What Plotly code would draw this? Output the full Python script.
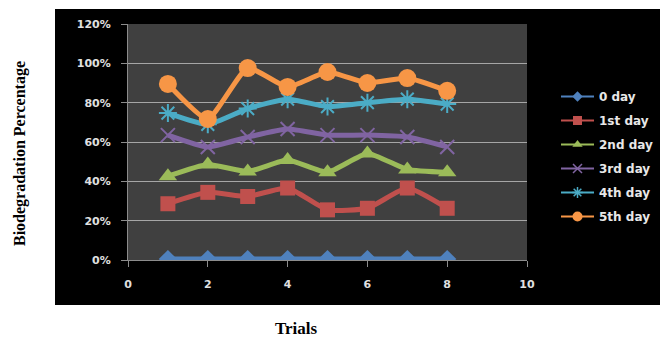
import plotly.graph_objects as go

# Trials and biodegradation fractions per incubation day
trials = [1, 2, 3, 4, 5, 6, 7, 8]
day0 = [0.005, 0.005, 0.005, 0.005, 0.005, 0.005, 0.005, 0.005]
day1 = [0.286, 0.344, 0.323, 0.366, 0.255, 0.263, 0.366, 0.263]
day2 = [0.426, 0.486, 0.450, 0.508, 0.446, 0.542, 0.460, 0.446]
day3 = [0.635, 0.575, 0.625, 0.666, 0.635, 0.635, 0.625, 0.575]
day4 = [0.747, 0.690, 0.770, 0.818, 0.780, 0.800, 0.818, 0.793]
day5 = [0.895, 0.717, 0.976, 0.880, 0.956, 0.900, 0.925, 0.860]

series_names = ["0 day", "1st day", "2nd day", "3rd day", "4th day", "5th day"]
series_values = [day0, day1, day2, day3, day4, day5]
colors = ["#4F81BD", "#C0504D", "#9BBB59", "#8064A2", "#4BACC6", "#F79646"]
symbols = ["diamond", "square", "triangle-up", "x-thin", "asterisk", "circle"]
sizes = [14, 15, 16, 14, 15, 18]
legend_sizes = [8, 9, 9, 9, 9, 10]

y_ticks = [0, 0.2, 0.4, 0.6, 0.8, 1.0, 1.2]
y_tick_text = ["0%", "20%", "40%", "60%", "80%", "100%", "120%"]
x_ticks = [0, 2, 4, 6, 8, 10]

fig = go.Figure()
for i, (name, vals) in enumerate(zip(series_names, series_values)):
    sym = symbols[i]
    open_line = sym in ("x-thin", "asterisk")
    lw = 2 if open_line else 0
    # plotted series
    fig.add_trace(go.Scatter(
        x=trials, y=vals, name=name, mode="lines+markers", showlegend=False,
        line=dict(color=colors[i], width=5, shape="spline", smoothing=0.5),
        marker=dict(symbol=sym, size=sizes[i], color=colors[i],
                    line=dict(color=colors[i], width=lw)),
        legendgroup=name,
    ))
    # compact legend key for the same series
    fig.add_trace(go.Scatter(
        x=[None], y=[None], name=name, mode="lines+markers",
        line=dict(color=colors[i], width=2),
        marker=dict(symbol=sym, size=legend_sizes[i], color=colors[i],
                    line=dict(color=colors[i], width=1.5 if open_line else 0)),
        legendgroup=name,
    ))

W, H = 660, 337
L, R, T, B = 128, 133, 24, 77
pw, ph = W - L - R, H - T - B

def px_to_paper_x(px):
    return (px - L) / pw

def px_to_paper_y(py):
    return (H - B - py) / ph

tick_font = dict(family="DejaVu Sans", size=11, color="#E0E0E0", weight="bold")

fig.update_layout(
    width=W, height=H,
    margin=dict(l=L, r=R, t=T, b=B, autoexpand=False),
    paper_bgcolor="white",
    plot_bgcolor="#404040",
    showlegend=True,
    legend=dict(
        x=px_to_paper_x(556), y=px_to_paper_y(82), xanchor="left", yanchor="top",
        bgcolor="rgba(0,0,0,0)",
        font=dict(family="DejaVu Sans", size=12, color="#E8E8E8", weight="bold"),
        tracegroupgap=5, itemwidth=33,
    ),
    shapes=[
        dict(type="rect", xref="paper", yref="paper", layer="below",
             x0=px_to_paper_x(55), x1=px_to_paper_x(661),
             y0=px_to_paper_y(305), y1=px_to_paper_y(9),
             fillcolor="black", line=dict(width=0)),
        dict(type="rect", xref="paper", yref="paper", layer="below",
             x0=0, x1=1, y0=0, y1=1,
             fillcolor="#404040", line=dict(width=0)),
    ],
    annotations=[
        dict(text="<b>Biodegradation Percentage</b>", textangle=-90,
             xref="paper", yref="paper", x=px_to_paper_x(20), y=px_to_paper_y(154),
             xanchor="center", yanchor="middle",
             showarrow=False, font=dict(family="Liberation Serif", size=16, color="black")),
        dict(text="<b>Trials</b>",
             xref="paper", yref="paper", x=px_to_paper_x(296), y=px_to_paper_y(328),
             xanchor="center", yanchor="middle",
             showarrow=False, font=dict(family="Liberation Serif", size=17, color="black")),
    ],
)

fig.update_xaxes(
    range=[0, 10], tickvals=x_ticks, showgrid=False, zeroline=False,
    showline=True, linecolor="#8C8C8C", linewidth=1,
    ticks="outside", ticklen=6, tickcolor="#8C8C8C", ticklabelstandoff=8,
    tickfont=tick_font,
)
fig.update_yaxes(
    range=[0, 1.2], tickvals=y_ticks, ticktext=y_tick_text,
    showgrid=True, gridcolor="#A6A6A6", gridwidth=1, zeroline=False,
    showline=True, linecolor="#8C8C8C", linewidth=1,
    ticks="outside", ticklen=6, tickcolor="#8C8C8C", ticklabelstandoff=8,
    tickfont=tick_font,
)

fig.write_html("out.html")
